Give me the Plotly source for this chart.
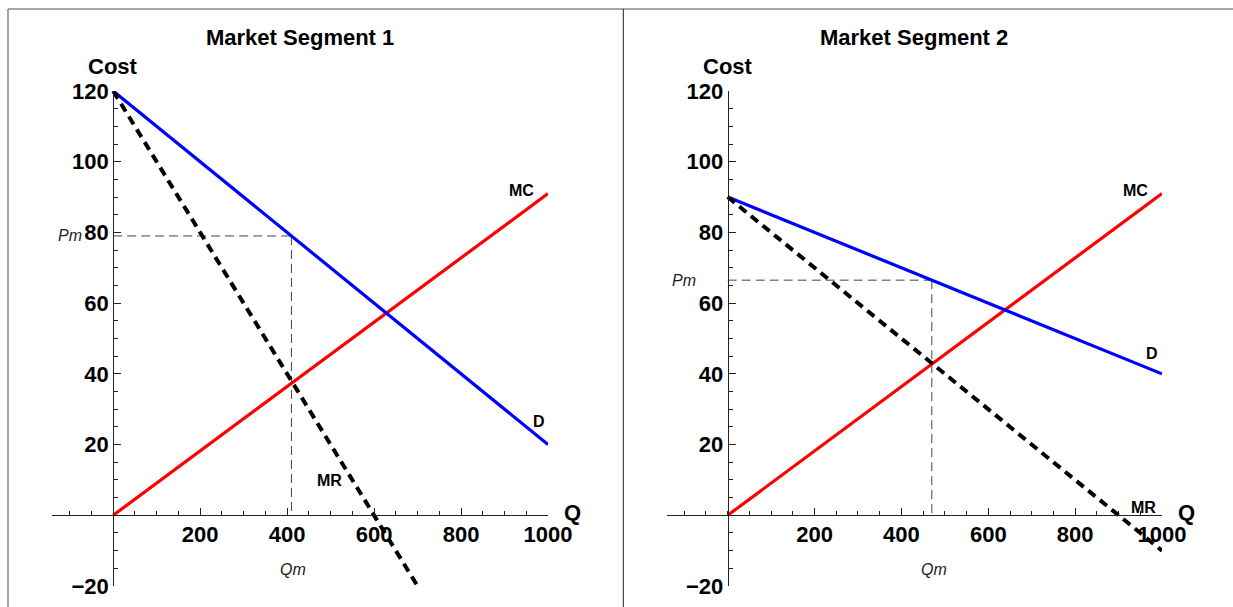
import plotly.graph_objects as go

# --- data -------------------------------------------------------------
q_ends = [0, 1000]
mc_cost = [0, 91]                       # marginal cost, same in both segments

seg1_demand = [120, 20]                 # P at Q = 0 and Q = 1000
seg1_mr_q = [0, 700]
seg1_mr = [120, -20]
seg1_qm, seg1_pm = 410, 79

seg2_demand = [90, 40]
seg2_mr_q = [0, 1000]
seg2_mr = [90, -10]
seg2_qm, seg2_pm = 470, 66.5

titles = ["Market Segment 1", "Market Segment 2"]
x_tickvals = [200, 400, 600, 800, 1000]
y_tickvals = [-20, 20, 40, 60, 80, 100, 120]

# --- styling ----------------------------------------------------------
W, H = 1233, 607
FONT = "Liberation Sans"
AX = "#222222"
x_range = [-140, 1000]
y_range = [-20, 120]

# panel placement in pixels
x_dom_px = [(52.3, 548.0), (666.9, 1162.0)]
y_top_px, y_bot_px, y_zero_px = 91.0, 586.0, 515.0


def qx_px(i, q):
    x0, x1 = x_dom_px[i]
    return x0 + (q - x_range[0]) / (x_range[1] - x_range[0]) * (x1 - x0)


fig = go.Figure()

panels = [
    dict(demand=seg1_demand, mr_q=seg1_mr_q, mr=seg1_mr, qm=seg1_qm, pm=seg1_pm,
         mc_lbl=(938, 92), d_lbl=(979, 26.6), mr_lbl=(498, 9.9)),
    dict(demand=seg2_demand, mr_q=seg2_mr_q, mr=seg2_mr, qm=seg2_qm, pm=seg2_pm,
         mc_lbl=(938, 92), d_lbl=(977, 45.8), mr_lbl=(958, 2.3)),
]

annotations = []
for i, p in enumerate(panels):
    xa = "x" if i == 0 else "x2"
    ya = "y" if i == 0 else "y2"

    # reference lines at the monopoly point
    fig.add_trace(go.Scatter(x=[0, p["qm"]], y=[p["pm"], p["pm"]], mode="lines",
                             line=dict(color="#444444", width=1, dash="9px,5px"),
                             xaxis=xa, yaxis=ya, hoverinfo="skip"))
    fig.add_trace(go.Scatter(x=[p["qm"], p["qm"]], y=[p["pm"], 0], mode="lines",
                             line=dict(color="#444444", width=1, dash="9px,5px"),
                             xaxis=xa, yaxis=ya, hoverinfo="skip"))
    # curves
    fig.add_trace(go.Scatter(x=q_ends, y=mc_cost, mode="lines",
                             line=dict(color="#FF0000", width=3.2),
                             xaxis=xa, yaxis=ya, name="MC"))
    fig.add_trace(go.Scatter(x=q_ends, y=p["demand"], mode="lines",
                             line=dict(color="#0000FF", width=3.2),
                             xaxis=xa, yaxis=ya, name="D"))
    fig.add_trace(go.Scatter(x=p["mr_q"], y=p["mr"], mode="lines",
                             line=dict(color="#000000", width=4, dash="9px,6px"),
                             xaxis=xa, yaxis=ya, name="MR"))

    lbl = dict(family=FONT, size=16, color="black", weight="bold")
    for txt, (qx, py) in [("MC", p["mc_lbl"]), ("D", p["d_lbl"]), ("MR", p["mr_lbl"])]:
        annotations.append(dict(x=qx, y=py, xref=xa, yref=ya, text=txt, showarrow=False,
                                font=lbl, xanchor="center", yanchor="middle"))
    big = dict(family=FONT, size=22, color="black", weight="bold")
    annotations.append(dict(x=qx_px(i, 0) / W, y=1 - 66.5 / H, xref="paper", yref="paper",
                            text="Cost", showarrow=False,
                            font=big, xanchor="center", yanchor="middle"))
    annotations.append(dict(x=(qx_px(i, 1000) + 24) / W, y=1 - (y_zero_px - 3) / H,
                            xref="paper", yref="paper", text="Q", showarrow=False,
                            font=big, xanchor="center", yanchor="middle"))
    ital = dict(family=FONT, size=16, color="#222222", style="italic")
    annotations.append(dict(x=-100, y=p["pm"], xref=xa, yref=ya, text="Pm", showarrow=False,
                            font=ital, xanchor="center", yanchor="middle"))
    annotations.append(dict(x=p["qm"] + 4, y=-15.3, xref=xa, yref=ya, text="Qm", showarrow=False,
                            font=ital, xanchor="center", yanchor="middle"))
    x0, x1 = x_dom_px[i]
    annotations.append(dict(x=(x0 + x1) / 2 / W, y=1 - 37.5 / H, xref="paper", yref="paper",
                            text=titles[i], showarrow=False, font=big,
                            xanchor="center", yanchor="middle"))

tickfont = dict(family=FONT, size=22, color="black", weight="bold")


def x_axis(i):
    x0, x1 = x_dom_px[i]
    return dict(domain=[x0 / W, x1 / W], range=x_range, anchor="free",
                position=1 - y_zero_px / H, showline=True, linecolor=AX, linewidth=1,
                ticks="inside", ticklen=7, tickcolor=AX, tickwidth=1, automargin=False,
                tickvals=x_tickvals, tickfont=tickfont, showgrid=False, zeroline=False,
                minor=dict(dtick=50, tick0=0, ticks="inside", ticklen=4, tickcolor=AX,
                           showgrid=False),
                fixedrange=True)


def y_axis(i):
    return dict(domain=[1 - y_bot_px / H, 1 - y_top_px / H], range=y_range, anchor="free",
                position=qx_px(i, 0) / W, showline=True, linecolor=AX, linewidth=1,
                ticks="inside", ticklen=7, tickcolor=AX, tickwidth=1, automargin=False,
                tickvals=y_tickvals, ticktext=[str(v).replace("-", "\u2212") for v in y_tickvals],
                tickfont=tickfont, showgrid=False, zeroline=False,
                minor=dict(dtick=5, tick0=0, ticks="inside", ticklen=4, tickcolor=AX,
                           showgrid=False),
                fixedrange=True)


# outer frame and panel divider
shapes = [
    dict(type="line", xref="paper", yref="paper", x0=8 / W, x1=1, y0=1 - 9 / H, y1=1 - 9 / H,
         line=dict(color="#888888", width=1.5)),
    dict(type="line", xref="paper", yref="paper", x0=8 / W, x1=8 / W, y0=0, y1=1 - 9 / H,
         line=dict(color="#888888", width=1.5)),
    dict(type="line", xref="paper", yref="paper", x0=623.3 / W, x1=623.3 / W, y0=0, y1=1 - 9 / H,
         line=dict(color="#222222", width=1)),
]

fig.update_layout(
    width=W, height=H, autosize=False,
    margin=dict(l=0, r=0, t=0, b=0, pad=0, autoexpand=False),
    paper_bgcolor="white", plot_bgcolor="white", showlegend=False,
    xaxis=x_axis(0), yaxis=y_axis(0), xaxis2=x_axis(1), yaxis2=y_axis(1),
    annotations=annotations, shapes=shapes,
)

page_css = ("document.documentElement.style.margin='0';"
            "document.body.style.margin='0';"
            "document.documentElement.style.overflow='hidden';"
            "document.body.style.overflow='hidden';")

fig.write_html("out.html", config={"responsive": False, "displayModeBar": False},
               default_width="1233px", default_height="607px", post_script=page_css)
